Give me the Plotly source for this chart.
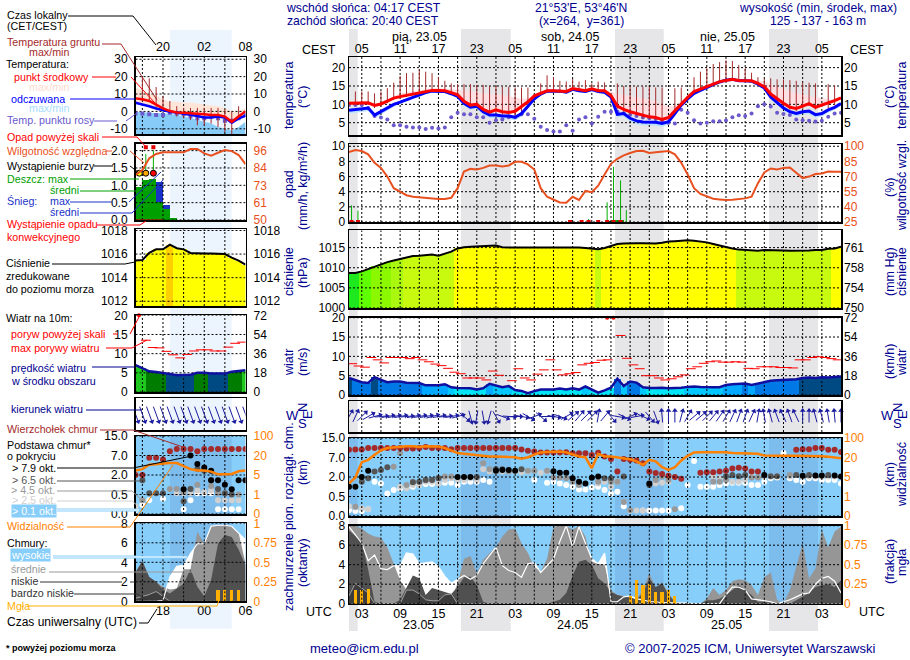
import math
import numpy as np
import plotly.graph_objects as go

W, H = 910, 660
FONT = "Liberation Sans"
NAVY = "#000090"
ORANGE = "#ff8000"
RHCOL = "#e85020"
DARKRED = "#a52a2a"
SKY = "#87cefa"
NIGHTSKY = "#7dbdee"

# ---------------- time axes ----------------
hours = list(range(1, 79))
main_grid = list(range(3, 78, 3))
main_label_hours = [3, 9, 15, 21, 27, 33, 39, 45, 51, 57, 63, 69, 75]
cest_labels = ["05", "11", "17", "23", "05", "11", "17", "23", "05", "11", "17", "23", "05"]
utc_labels = ["03", "09", "15", "21", "03", "09", "15", "21", "03", "09", "15", "21", "03"]
inset_hours = list(range(14, 31))
inset_grid = [15, 18, 21, 24, 27]
inset_label_hours = [18, 24, 30]
inset_cest = ["20", "02", "08"]
inset_utc = ["18", "00", "06"]

# ---------------- main: temperature ----------------
t_mid = [10.3,10.3,10.3,10.4,9.7,10.1,10.9,11.7,12.1,12.4,12.7,13.0,13.5,13.8,13.8,13.7,13.2,12.6,10.8,9.8,
         10.0,8.6,7.9,8.5,8.0,7.8,8.1,9.4,10.7,12.3,13.0,13.7,13.7,13.7,13.5,14.3,13.9,13.7,14.2,13.7,
         13.7,12.4,9.5,8.6,8.0,7.5,6.9,6.6,6.4,5.9,6.4,8.3,10.3,11.9,13.5,14.1,14.8,15.5,16.2,16.6,
         16.8,16.5,16.5,16.4,15.7,14.8,12.8,11.5,10.3,9.2,8.9,9.5,10.2,9.2,9.8,10.3,11.0,11.8]
t_feel = [8.4,8.6,8.7,9.0,7.1,8.0,9.0,10.0,10.6,11.3,12.0,12.5,13.2,13.6,13.6,13.5,12.9,12.2,10.3,9.2,
          9.5,8.0,7.1,7.1,6.8,6.8,6.5,7.5,9.5,11.5,12.8,13.6,13.6,13.6,13.3,14.1,13.7,13.5,14.0,13.5,
          13.3,12.0,7.3,7.5,6.2,5.5,5.2,5.2,5.1,4.8,5.3,7.5,9.8,11.5,13.0,13.8,14.7,15.4,16.1,16.6,
          16.8,16.4,16.4,16.3,15.5,14.5,12.0,10.6,9.0,8.0,7.5,8.0,8.2,7.2,7.5,8.5,9.2,10.2]
t_max = [10.4,10.5,10.5,10.6,10.2,10.6,11.3,12.2,13.0,13.3,13.6,13.9,14.2,14.4,14.4,14.3,14.2,14.0,13.7,13.5,
         13.3,13.0,12.9,12.8,12.6,12.3,11.8,11.5,11.6,12.5,13.3,13.9,14.0,14.0,13.9,14.5,14.2,14.1,14.5,14.2,
         13.9,13.5,12.9,12.6,12.3,12.0,11.6,11.2,10.8,10.1,9.5,9.5,10.8,12.2,13.7,14.3,15.0,15.8,16.4,16.8,
         17.0,16.8,16.8,16.7,16.5,16.2,15.5,14.8,14.0,13.4,13.0,12.7,12.4,12.0,11.6,11.3,11.4,12.0]
t_feel_min = [7.6,7.7,7.9,8.2,6.3,7.2,8.3,9.4,10.1,10.9,11.6,12.1,12.9,13.3,13.3,13.1,12.5,11.7,9.6,8.5,
              8.8,7.2,6.3,6.3,6.0,6.0,5.7,6.6,8.8,11.0,12.4,13.2,13.2,13.2,12.9,13.7,13.3,13.1,13.6,13.1,
              12.9,11.5,6.5,6.7,5.3,4.6,4.3,4.3,4.2,3.9,4.5,6.8,9.2,11.0,12.6,13.5,14.4,15.2,15.9,16.4,
              16.6,16.2,16.2,16.1,15.2,14.1,11.4,9.9,8.3,7.2,6.7,7.2,7.4,6.4,6.7,7.7,8.5,9.6]
t_dew = [9.8,9.8,9.8,9.0,6.8,6.4,5.9,4.3,4.3,3.9,3.7,3.7,3.3,3.6,3.4,3.7,6.5,7.7,7.3,7.3,
         6.5,6.5,5.0,5.7,5.9,6.5,6.5,7.3,7.3,6.1,3.9,3.0,2.6,2.6,4.3,2.8,5.9,6.5,4.8,6.6,
         8.0,8.0,8.0,7.6,7.2,6.8,6.4,6.2,6.0,5.5,5.0,4.8,8.5,7.7,5.7,4.8,5.0,5.4,5.4,5.6,
         6.5,7.0,6.8,7.5,9.5,10.0,9.4,7.7,7.4,7.1,5.9,5.7,5.5,5.3,5.5,6.6,7.5,7.7]
ground_max = [None,13.5,13.5,13.5,13.0,13.5,14.4,15.9,17.7,18.5,18.6,19.2,18.9,18.5,17.4,16.4,15.7,15.5,15.5,15.5,
              15.3,15.3,15.0,15.0,14.8,14.8,14.6,14.6,14.6,None,15.7,17.9,17.4,16.4,16.2,16.9,16.2,16.6,15.7,16.2,
              16.0,None,15.7,15.0,15.0,14.8,14.8,14.8,14.6,14.6,None,14.4,14.6,None,17.4,18.9,19.8,21.0,21.5,22.0,
              21.8,20.7,19.8,18.6,17.4,17.0,17.1,16.8,16.8,16.6,16.4,16.0,15.9,15.7,None,15.5,15.2,None]
ground_min = [None,9.7,9.8,9.8,9.0,9.3,10.3,11.2,11.7,12.0,12.4,12.8,13.2,13.6,13.6,13.4,13.1,12.4,10.6,9.2,
              9.2,8.0,7.2,7.6,7.2,7.2,7.0,7.5,9.0,None,12.5,13.4,13.4,13.4,13.2,14.0,13.6,13.4,13.8,13.4,
              13.4,None,8.8,8.0,7.2,6.9,6.2,6.0,5.8,5.3,None,7.8,9.8,None,13.1,13.8,14.6,15.3,16.0,16.4,
              16.6,16.2,16.3,16.2,15.4,14.6,11.6,10.8,9.6,8.6,8.2,8.8,9.6,8.6,None,9.0,9.8,None]

# ---------------- main: humidity & precipitation ----------------
rh = [94.3,96.3,95.3,92.0,83.6,78.6,70.0,58.5,55.0,51.5,50.0,49.4,48.4,47.8,47.8,47.8,49.0,58.5,75.0,77.6,
      77.0,78.6,81.0,81.0,80.0,81.0,84.6,84.6,82.0,77.0,58.5,50.0,46.8,44.4,44.0,50.0,46.8,55.8,54.5,61.0,
      72.0,82.6,87.6,91.0,93.3,95.3,95.6,93.3,94.0,95.0,95.3,92.0,83.6,72.0,58.5,52.8,50.0,48.0,47.4,46.8,
      47.1,47.8,48.4,50.0,63.5,74.0,78.0,77.0,78.6,79.0,74.0,68.5,70.0,72.5,73.0,75.0,74.7,74.7]
rain_hours = [1.4, 2.4, 38.5, 41.4, 42.4, 43.5, 44.4]
rain_max = [2.2, 1.5, 0.4, 2.6, 7.3, 5.5, 1.6]
rain_mean_hours = [41.5, 42.5, 43.5]
rain_mean = [0.1, 0.2, 0.2]
conv_hours = [1.4, 2.4, 35.6, 37.4, 38.5, 40.0, 41.4, 42.4, 43.5]
conv_values = [0, 0, 0, 0, 0, 0, 0, 0, 0]

# ---------------- main: pressure ----------------
press = [1008.7,1008.7,1009.1,1009.7,1010.4,1010.9,1011.4,1011.8,1012.2,1012.5,1012.9,1013.0,1013.2,1013.3,1013.0,1013.5,1014.0,1014.8,1015.1,1015.2,
         1015.3,1015.4,1015.5,1015.5,1015.1,1015.0,1015.0,1015.0,1015.0,1015.1,1015.1,1015.1,1015.1,1015.1,1015.0,1015.0,1015.0,1014.9,1014.8,1014.6,
         1014.9,1015.4,1015.9,1016.0,1016.1,1016.1,1016.1,1016.1,1016.0,1016.2,1016.5,1016.6,1016.7,1016.8,1016.7,1016.5,1016.3,1015.9,1015.5,1015.2,
         1014.8,1014.5,1014.4,1014.2,1014.2,1014.4,1014.4,1014.4,1014.3,1014.2,1014.2,1014.2,1014.3,1014.4,1014.4,1014.7,1014.8,1015.2]
press_levels = [1009.0, 1010.0, 1011.5, 1012.5, 1014.75]
press_colors = ["#1ee81e", "#60ff00", "#8cf800", "#aaf810", "#c8fa10", "#ffff00"]

# ---------------- main: wind ----------------
wind = [4.4,3.9,3.3,3.1,4.6,3.9,3.3,3.5,3.5,3.2,3.1,3.1,2.5,2.5,2.5,2.8,2.0,1.8,1.75,1.75,
        1.4,1.75,2.9,2.4,2.0,2.3,1.3,1.05,0.45,1.0,1.4,1.4,1.4,1.7,1.4,1.75,1.4,2.2,1.3,0.6,
        1.2,1.9,4.2,2.3,3.5,3.2,2.0,1.8,1.8,1.9,1.75,1.75,1.9,2.1,2.2,2.1,2.0,2.0,2.0,2.6,
        2.8,2.9,3.0,2.6,3.0,3.3,3.7,3.8,3.9,3.9,4.1,4.4,4.5,4.4,4.6,4.5,4.7,4.8]
gust = [8.1,7.5,7.2,9.7,9.1,8.3,9.7,9.7,9.7,9.4,9.7,9.1,8.6,8.0,7.6,6.9,5.9,5.5,4.4,4.4,
        4.4,3.9,6.2,5.1,None,3.7,6.8,4.4,3.9,5.4,6.5,9.1,6.5,5.2,5.5,5.8,7.8,8.2,8.4,9.0,
        9.1,None,15.4,9.5,7.8,6.8,5.0,5.0,4.4,3.9,4.2,4.7,5.2,6.8,7.3,8.2,8.6,8.8,8.5,8.5,
        8.6,8.5,6.9,6.8,7.3,7.3,7.3,7.1,7.1,7.0,9.1,9.1,9.7,9.9,9.7,9.4,9.1,None]
over_hours = [41.4, 42.4]
over_values = [20, 20]
wind_levels = [2.0, 2.5, 3.0, 4.35, 5.0, 5.6]
wind_colors = ["#00e5f5", "#00c8ff", "#00a8ff", "#0078e6", "#004a84", "#007d00", "#1fc81f"]
wind_dir = [30,25,45,60,75,85,80,80,80,85,80,80,80,75,80,85,80,75,130,165,
            190,170,195,150,110,95,90,100,120,70,130,90,100,110,60,50,40,45,45,10,
            40,140,100,115,65,80,115,140,160,-5,0,0,15,30,50,50,45,40,35,30,
            25,20,20,25,10,-10,-15,-20,-25,-20,-25,0,0,-15,-15,-10,-5,0]

# ---------------- main: cloud base (km) ----------------
top_h = [1,2,3,4,5,6,7,8,9,10,11,12,13,14,15,16,17,18,19,20,21,22,23,24,25,26,27,28,29,30,31,32,33,34,35,36,37,38,39,40,
         41,42,43,44,45,46,47,48,49,50,51,52,53,56,57,58,59,60,61,62,63,64,65,71,72,73,74,75,76,77,78]
top_km = [10.2,10.3,10.3,10.9,10.9,10.9,10.9,10.9,10.9,10.7,10.7,10.9,11.3,10.9,10.9,10.9,10.4,10.9,10.9,10.9,10.9,10.9,10.9,10.9,10.9,10.9,10.9,10.3,9.8,9.5,9.1,9.1,9.1,9.1,9.2,8.7,8.7,8.7,8.0,8.9,
          7.4,6.6,3.4,6.6,6.4,6.2,5.5,3.4,3.0,2.8,2.3,2.0,1.87,3.1,3.2,3.2,3.4,3.6,4.2,4.4,4.2,3.4,3.4,10.2,10.4,10.4,10.9,10.9,10.2,10.2,9.3]
b79_h = [1,2,3,4,18,19,20,24,25,26,27,33,34,35,36,37,38,39,40,48,66,72,74,75,77,78]
b79_km = [1.25,1.25,2.0,3.6,2.0,2.0,2.0,3.6,3.8,3.8,3.6,3.5,3.1,3.1,1.9,1.64,1.5,1.95,2.1,1.5,2.5,2.3,2.4,2.4,2.4,2.1]
b65_h = [3,4,5,6,7,11,12,13,14,15,21,24,25,28,41,42,44,48,60,61,62,63,67,68,71,73,76]
b65_km = [1.64,1.9,3.4,3.8,4.5,1.6,1.64,1.77,1.77,1.9,2.0,4.0,4.0,4.0,1.9,1.9,2.1,1.38,2.2,2.5,2.2,2.5,2.2,2.2,2.5,2.5,2.5]
b45_h = [2,8,9,10,11,13,15,16,17,22,23,24,26,29,30,32,33,34,35,36,37,40,42,43,44,45,49,50,51,52,58,59,60,64,65,70]
b45_km = [0.24,4.6,8.8,1.38,1.64,1.77,1.95,2.1,2.1,5.5,4.0,3.6,3.4,3.6,3.6,3.6,1.97,1.97,1.9,1.64,1.38,1.64,1.64,1.64,0.36,0.15,1.77,2.1,1.77,0.17,1.64,1.64,1.77,1.97,1.97,2.5]
b25_h = [1,2,3,4,9,10,11,12,13,14,15,16,17,18,19,20,21,22,23,24,25,26,27,28,29,31,32,40,41,42,43,44,46,47,49,50,51,58,59,60,61,62,63,64,66,67,68,70,72,73,74,75,76,77,78]
b25_km = [0.25,0.22,0.2,0.17,1.25,1.12,1.38,1.38,1.64,1.64,1.5,1.77,1.9,1.77,1.77,1.9,1.77,4.0,3.4,3.4,3.4,3.4,3.4,3.2,3.4,3.1,3.4,1.5,1.64,1.25,1.64,0.36,0.14,0.14,1.5,1.56,1.64,2.1,1.9,1.9,1.64,1.64,1.77,2.1,2.1,2.1,2.2,2.1,2.1,2.1,2.1,2.1,2.1,2.1,2.1]
b01_h = [1,2,3,4,5,6,7,8,9,10,11,12,13,14,15,16,17,18,19,20,21,22,23,30,32,33,34,35,36,37,38,39,40,41,42,43,44,45,47,48,49,50,51,53,54,55,56,57,58,59,60,61,62,63,64,65,66,67,68,69,70,71,72,73,74,75,76,77,78]
b01_km = [0.15,0.13,0.13,0.17,1.64,1.5,0.73,1.0,1.12,1.2,1.25,1.38,1.46,1.46,1.5,1.56,1.56,1.38,1.64,1.64,1.64,1.77,1.64,1.77,1.56,1.64,1.5,1.38,1.25,1.04,1.04,1.2,1.25,1.0,0.73,0.86,0.25,0.14,0.14,0.14,0.14,0.14,0.14,0.2,1.38,6.1,1.25,1.25,1.25,1.38,1.5,1.56,1.56,1.56,1.38,1.38,1.64,1.9,1.97,8.8,1.9,1.77,1.64,1.9,1.9,1.77,1.77,1.77,1.5]
visibility = [3.7,4.9,16.4,18.2,31,49,59,62,63,66,66,63,66,66,65,59,49,38,35,32,
              28,27,24,24,24,24,21,19,21,32,41,43,45,45,41,32,24,21,11.7,35,
              24,24,20,19.5,18.7,17,14.3,18.2,17,12.5,10.4,12.5,17.7,27,41,42,42,42,42,42,
              38,38,38,35,35,28,27,27,27,27,27,27,27,27,25.5,23,20,19.5]
km_scale = [0, 0.5, 2, 7, 15]
vis_scale = [0, 1, 5, 20, 100]
base_positions = [0, 1, 2, 3, 4]
base_labels = ["0.0", "0.5", "2.0", "7.0", "15.0"]
vis_labels = ["0", "1", "5", "20", "100"]

# ---------------- main: cloud cover (octas) ----------------
cl_high = [7.9,7.0,6.2,4.4,5.0,3.6,3.5,3.9,3.9,5.2,5.1,4.1,4.2,4.3,3.8,2.8,2.1,2.5,2.9,2.5,
           2.9,4.1,5.0,5.8,3.9,3.4,3.2,2.7,4.1,4.2,3.2,3.9,4.6,6.4,8.0,5.8,7.9,6.2,4.6,4.1,
           5.2,0.2,0.2,0.7,0.8,0.5,0.4,0.2,0.2,0.1,0.1,0.1,0.05,0.05,0.0,0.0,0.0,0.0,0.0,0.9,
           1.7,1.7,1.4,0.5,0.4,0.3,0.2,0.0,0.2,0.4,0.7,1.0,1.1,2.0,2.6,2.8,2.3,1.1]
cl_mid = [8.0,8.0,7.7,7.2,6.9,6.8,5.8,4.1,2.4,1.4,0.3,0.1,0.1,0.1,0.1,0.1,0.5,2.1,4.6,4.9,
          3.1,4.5,5.2,5.8,6.9,7.6,7.7,6.2,5.2,3.8,3.3,4.6,7.9,8.0,8.0,7.6,8.0,6.9,4.3,4.1,
          4.0,1.4,0.9,0.8,0.7,0.45,1.4,3.1,1.6,2.2,1.1,0.2,0.1,0.0,0.0,0.0,0.5,1.6,0.9,1.4,
          2.3,2.5,2.4,1.9,0.9,2.7,3.2,0.4,0.0,1.4,3.8,6.2,2.6,3.6,7.6,5.8,7.4,7.9]
cl_low = [7.5,6.9,6.4,3.5,0.2,0.0,0.0,0.0,0.4,1.7,2.9,2.6,0.9,1.6,1.4,1.2,1.0,1.7,2.7,2.8,
          1.9,0.2,0.0,0.0,0.0,0.0,0.0,0.0,0.0,0.0,0.0,0.0,0.2,0.4,1.1,2.9,4.3,4.5,4.0,2.6,
          2.1,1.2,0.9,0.7,0.65,0.4,1.1,2.6,1.7,2.1,0.9,0.2,0.0,0.0,0.0,0.0,0.35,0.35,0.5,0.9,
          1.4,1.9,1.4,0.9,0.2,0.2,0.1,0.0,0.0,0.0,0.35,0.7,1.1,1.7,1.9,2.0,1.7,2.4]
cl_vlow = [0.8,2.1,1.6,1.1,0.0,0.0,0.0,0.0,0.0,1.4,1.4,1.0,0.4,0.3,0.3,0.9,1.0,0.0,0.0,0.0,
           0.0,0.0,0.0,0.0,0.0,0.0,0.0,0.0,0.0,0.0,0.0,0.0,0.0,0.0,0.0,0.0,0.0,0.0,0.0,0.0,
           0.0,0.0,0.0,0.0,0.0,0.0,0.0,0.0,0.0,0.0,0.0,0.0,0.0,0.0,0.0,0.0,0.0,0.0,0.0,0.0,
           0.0,0.0,0.0,0.0,0.0,0.0,0.0,0.0,0.0,0.0,0.0,0.0,0.0,0.0,0.0,0.0,0.0,0.0]
fog_h = [2, 3, 4, 45, 46, 47, 48, 49, 50, 51, 52]
fog = [0.18, 0.18, 0.19, 0.10, 0.30, 0.24, 0.25, 0.15, 0.15, 0.18, 0.10]

# ---------------- inset legend panels ----------------
i_mid = [7.5,7.0,6.0,3.7,1.7,0.2,-0.6,-0.8,-1.2,-1.7,-1.7,-2.0,-2.0,-3.0,-6.0,-3.0,0.0]
i_feel = [5.0,4.2,3.0,1.7,0.8,-0.2,-0.6,-1.2,-1.7,-2.7,-3.5,-3.5,-3.0,-3.5,-6.5,-4.0,-2.5]
i_max = [13.8,12.0,10.0,9.0,7.0,5.5,5.5,5.0,5.0,4.5,4.0,3.5,3.0,2.0,0.0,0.0,2.0]
i_blue_top = [-0.2,-0.5,-1.0,-1.0,-1.0,-1.5,-2.0,-3.0,-4.0,-5.0,-6.0,-7.0,-9.0,-10.0,-11.0,-9.0,-6.0]
i_dew = [-1.2,-1.2,-1.7,-2.1,-2.1,-0.8,-1.2,-1.7,-3.0,-4.0,-4.0,-3.0,-4.0,-5.4,-5.4,-4.0,-2.0]
i_gmax = [None,20,19,14,9,6,3,2,2,2,2,2,2,1,0,3,None]
i_gmin = [None,7,6,2,0,-1,-3,-4,-5,-8,-8,-7,-9,-12,-13,-5,None]
i_rh = [79.9,83.2,90.9,93.8,94.9,94.9,94.9,94.9,97.1,97.1,94.2,92.7,94.6,96.4,95.7,93.1,87.1]
i_rain_h = [14.5,15.5,16.5,17.5,18.5,19.5]
i_rain = [0.95,1.15,1.17,0.53,0.33,0.07]
i_snow = [0,0,0,0.57,0.09,0]
i_rainmax_h = [14.55,15.5,16.6]
i_rainmax = [1.3,1.9,2.0]
i_storm_values = [1.35,1.35,1.35]
i_storm_colors = ["#ffff00","#ffa500","#ff0000"]
i_over_h = [15.5,16.6]
i_over = [2.1,2.1]
i_conv_h = [14.5,15.5,16.5,17.5]
i_conv = [0,0,0,0]
i_press = [1015.45,1015.5,1016.1,1016.4,1016.4,1016.8,1016.5,1016.4,1016.1,1016.05,1016.05,1016.05,1016.05,1016.0,1015.7,1015.45,1015.1]
i_press_colors = ["#ffff00"]*5 + ["#ffd000"] + ["#ffff00"]*11
i_wind = [7.0,6.2,5.4,5.2,5.0,4.7,4.4,4.4,4.5,5.0,5.0,4.8,4.8,4.8,5.3,5.5,5.7]
i_gust_h = [15.5,16.5,17.5,18.5,19.5,20.5,21.5,22.5,23.5,24.5,25.5,26.5,27.5,28.5,29.5]
i_gust = [13.5,11.6,11.5,10.6,9.7,8.9,9.8,10.7,11.0,11.0,10.7,10.7,11.7,12.7,13.0]
i_over_g_h = [14.5]
i_over_g = [20]
i_dir = [160]*17
i_top_h = [14,15,16,17,18,19,20,21,22,23,24,25,26,27,28,29,30]
i_top = [2.0,2.0,6.4,6.4,6.0,8.7,9.7,9.7,9.7,8.7,9.7,9.7,9.7,9.7,9.7,9.7,9.7]
i_b79_h = [22,23,24,25,25,26,27,28,21,29,30]
i_b79 = [7.0,4.8,3.9,3.1,1.6,1.6,1.25,0.9,0.9,1.6,1.6]
i_b65_h = [15,16,17,18,21,22,23,24,25,26,27,28]
i_b65 = [1.6,0.6,0.6,0.6,0.33,0.93,3.6,3.1,1.6,0.93,0.6,0.5]
i_b45_h = [15,19,20,21,22,23,25,26,27,29,30]
i_b45 = [0.35,0.93,0.93,0.7,0.93,1.25,1.15,0.6,0.6,0.5,1.6]
i_b25_h = [14,15,19,20,21,22,23,24,25,26,27,28,29]
i_b25 = [0.2,0.35,0.93,0.6,0.6,0.6,0.8,0.7,0.8,0.35,0.35,0.35,0.35]
i_b01_h = [14,15,16,18,21,22,23,24,25,26,27,28,29]
i_b01 = [0.1,0.24,0.35,0.39,0.12,0.35,0.6,0.6,0.6,0.12,0.12,0.12,0.12]
i_vis = [8.4,9.5,12.9,13.4,13.7,14.2,14.2,11.6,9.5,8.4,8.4,7.6,5.5,5.5,5.8,7.9,8.4]
i_high = [0,0,0,0,0.1,2.5,3.6,3.7,4.9,5.9,5.9,7.7,7.8,7.8,7.7,7.0,6.3]
i_mid_c = [3.0,4.1,2.5,2.0,1.5,1.2,1.3,3.3,3.3,7.1,5.9,7.7,7.8,7.8,7.7,7.0,3.9]
i_low_c = [3.0,4.1,2.5,2.0,1.2,0.8,1.3,1.8,3.3,1.5,0.5,2.2,5.9,6.8,6.6,5.3,3.7]
i_vlow_c = [0.3,0.5,0.7,1.0,0.5,0,0,0,0,0,0,0,0,0,0,0,0]
i_fog_h = [26,27,28,29]
i_fog = [0.145,0.145,0.145,0.145]

for arr in (t_mid,t_feel,t_max,t_feel_min,t_dew,ground_max,ground_min,rh,press,wind,gust,wind_dir,visibility,cl_high,cl_mid,cl_low,cl_vlow):
    assert len(arr) == 78, len(arr)

# ---------------- helpers ----------------
fig = go.Figure()
layout = {}
shapes, annots = [], []

def px(x): return x / W
def py(y): return 1 - y / H

def txt(x, y, s, color="black", anchor="left", size=12, angle=0, bg=None, bold=False):
    annots.append(dict(x=px(x), y=py(y), xref="paper", yref="paper", text=f"<b>{s}</b>" if bold else s, showarrow=False,
                       xanchor=anchor, yanchor="middle", textangle=angle, bgcolor=bg, borderpad=0,
                       font=dict(family=FONT, size=size, color=color)))

def leader(points, color, width=1):
    for (a, b), (c, d) in zip(points[:-1], points[1:]):
        shapes.append(dict(type="line", xref="paper", yref="paper", x0=px(a), y0=py(b), x1=px(c), y1=py(d),
                           line=dict(color=color, width=width), layer="above"))

def box(x0, x1, y0, y1, color):
    shapes.append(dict(type="rect", xref="paper", yref="paper", x0=px(x0), x1=px(x1), y0=py(y0), y1=py(y1),
                       fillcolor=color, line=dict(width=0), layer="below"))

panels = {}
def panel(i, x0, x1, top, bot, xr, yr, yt=None, yl=None, rt=None, rl=None, rr=None, rc="black",
          xt=None, xl=None, xside=None, grid_x=None, xoff=0, loff=0, roff=2):
    panels[i] = dict(xr=xr, yr=yr, rr=rr or yr, yt=yt or [], grid_x=grid_x, x0=x0, x1=x1, top=top, bot=bot)
    xa = dict(domain=[px(x0), px(x1)], range=xr, anchor=f"y{i}", showgrid=False, zeroline=False, ticks="",
              showline=True, mirror=True, linecolor="black", linewidth=1.5, fixedrange=True)
    if xt:
        xa.update(tickmode="array", tickvals=xt, ticktext=xl, side=xside, showticklabels=True, ticklabelstandoff=xoff,
                  tickfont=dict(family=FONT, size=12.5, color="black"))
    else:
        xa.update(showticklabels=False)
    layout[f"xaxis{i}"] = xa
    ya = dict(domain=[py(bot), py(top)], range=yr, anchor=f"x{i}", showgrid=False, zeroline=False, ticks="",
              showline=True, mirror=True, linecolor="black", linewidth=1.5, fixedrange=True)
    if yt:
        ya.update(tickmode="array", tickvals=yt, ticktext=yl, ticklabelstandoff=loff,
                  tickfont=dict(family=FONT, size=12, color="black"))
    else:
        ya.update(showticklabels=False)
    layout[f"yaxis{i}"] = ya
    if rt:
        layout[f"yaxis{i+20}"] = dict(domain=[py(bot), py(top)], range=rr or yr, anchor=f"x{i}", overlaying=f"y{i}",
                                      side="right", showgrid=False, zeroline=False, ticks="", showline=False,
                                      tickmode="array", tickvals=rt, ticktext=rl, fixedrange=True, ticklabelstandoff=roff,
                                      tickfont=dict(family=FONT, size=12, color=rc))

def ax(i, right=False):
    return dict(xaxis=f"x{i}", yaxis=f"y{i+20 if right else i}", hoverinfo="skip", showlegend=False)

def grid(i, right=False):
    p = panels[i]
    xs, ys = [], []
    for v in p["grid_x"]:
        xs += [v, v, None]
        ys += [p["yr"][0], p["yr"][1], None]
    for v in p["yt"]:
        xs += [p["xr"][0], p["xr"][1], None]
        ys += [v, v, None]
    if right:
        rng = p["yr"]; rr = p["rr"]
        ys = [None if y is None else rr[0] + (y - rng[0]) * (rr[1] - rr[0]) / (rng[1] - rng[0]) for y in ys]
    fig.add_trace(go.Scatter(x=xs, y=ys, mode="lines", line=dict(color="black", width=1, dash="2px,2px"),
                             **ax(i, right)))

def dummy(i):
    p = panels[i]
    fig.add_trace(go.Scatter(x=[p["xr"][0]], y=[p["rr"][0]], mode="markers", marker=dict(size=1, opacity=0), **ax(i, True)))

def band(i, x, upper, lower, color):
    fig.add_trace(go.Scatter(x=x, y=lower, mode="lines", line=dict(width=0, color=color), **ax(i)))
    fig.add_trace(go.Scatter(x=x, y=upper, mode="lines", line=dict(width=0, color=color), fill="tonexty", fillcolor=color, **ax(i)))

def line(i, x, y, color, width=2, right=False):
    fig.add_trace(go.Scatter(x=x, y=y, mode="lines", line=dict(color=color, width=width), **ax(i, right)))

def dots(i, x, y, color, size=6, symbol="circle", right=False, clip=True):
    fig.add_trace(go.Scatter(x=x, y=y, mode="markers", marker=dict(color=color, size=size, symbol=symbol, line=dict(width=0)),
                             cliponaxis=clip, **ax(i, right)))

def vsegs(i, x, lo, hi, color, width=1, right=False):
    xs, ys = [], []
    for a, b, c in zip(x, lo, hi):
        if b is None or c is None:
            continue
        xs += [a, a, None]
        ys += [b, c, None]
    fig.add_trace(go.Scatter(x=xs, y=ys, mode="lines", line=dict(color=color, width=width), **ax(i, right)))

def hsegs(i, x, y, color, size=7):
    fig.add_trace(go.Scatter(x=x, y=y, mode="markers",
                             marker=dict(symbol="line-ew", size=size, line=dict(color=color, width=1)), **ax(i)))

def level_color(v, levels, colors):
    for lv, c in zip(levels, colors):
        if v < lv:
            return c
    return colors[-1]

def arrows(i, x, angles, length, px_per_x, px_per_y):
    xs, ys, tx, ty, ang = [], [], [], [], []
    for h, a in zip(x, angles):
        dx = math.sin(math.radians(a)) * length / 2 / px_per_x
        dy = math.cos(math.radians(a)) * length / 2 / px_per_y
        xs += [h - dx, h + dx, None]
        ys += [-dy, dy, None]
        tx.append(h + dx); ty.append(dy); ang.append(a)
    fig.add_trace(go.Scatter(x=xs, y=ys, mode="lines", line=dict(color="#1c1ca0", width=1), cliponaxis=False, **ax(i)))
    fig.add_trace(go.Scatter(x=tx, y=ty, mode="markers", cliponaxis=False,
                             marker=dict(symbol="triangle-up", size=5, angle=ang, color="#1c1ca0", line=dict(width=0)), **ax(i)))

mx = lambda v: np.interp(v, km_scale, base_positions).tolist()
vx = lambda v: np.interp(v, vis_scale, base_positions).tolist()

# ---------------- backgrounds ----------------
MAIN_X = (349, 841)
INSET_X = (135.5, 245.5)
NIGHTS = [(349, 357.7), (461, 510.7), (615, 663.7), (769, 818)]
for a, b in NIGHTS:
    box(a, b, 29, 631, "#e6e6e8")
box(170, 231.7, 30, 628.7, "#ecf4fd")
for (x0, x1, nights), (t, b) in [((349, 841, NIGHTS), (438, 516)), ((349, 841, NIGHTS), (525.7, 603.7)),
                                 ((135.5, 245.5, [(170, 231.7)]), (436, 514)),
                                 ((135.5, 245.5, [(170, 231.7)]), (523.3, 601.3))]:
    box(x0, x1, t, b, SKY)
    for a, c in nights:
        box(a, c, t, b, NIGHTSKY)

# ---------------- panels ----------------
MR = [1, 78]
IR = [14, 30]
IL, IRO = 4, 7
panel(1, *MAIN_X, 57, 135, MR, [1.65, 22.9], [5, 10, 15, 20], ["5", "10", "15", "20"], [5, 10, 15, 20], ["5", "10", "15", "20"],
      xt=main_label_hours, xl=cest_labels, xside="top", grid_x=main_grid, xoff=-2)
panel(2, *MAIN_X, 144, 222, MR, [0, 10.3], [2, 4, 6, 8, 0, 10], ["2", "4", "6", "8", "0", "10"], [25, 40, 55, 70, 85, 100],
      ["25", "40", "55", "70", "85", "100"], rr=[25, 102.25], rc=RHCOL, grid_x=main_grid)
panel(3, *MAIN_X, 230.3, 308, MR, [1000, 1019.3], [1000, 1005, 1010, 1015], ["1000", "1005", "1010", "1015"],
      [1000, 1005, 1010, 1015], ["750", "754", "758", "761"], grid_x=main_grid)
panel(4, *MAIN_X, 317.7, 395, MR, [0, 20], [0, 5, 10, 15, 20], ["0", "5", "10", "15", "20"], [0, 5, 10, 15, 20], ["0", "18", "36", "54", "72"], grid_x=main_grid)
panel(5, *MAIN_X, 401, 432, MR, [-1, 1], grid_x=main_grid)
panel(6, *MAIN_X, 438, 516, MR, [0, 4], base_positions, base_labels, base_positions, vis_labels, rc=ORANGE, grid_x=main_grid)
panel(7, *MAIN_X, 525.7, 603.7, MR, [0, 8], [0, 2, 4, 6, 8], ["0", "2", "4", "6", "8"], [0, .25, .5, .75, 1], ["0", "0.25", "0.5", "0.75", "1"],
      rr=[0, 1], rc=ORANGE, xt=main_label_hours, xl=utc_labels, xside="bottom", grid_x=main_grid, xoff=-2)
panel(8, *INSET_X, 57, 134, IR, [-13, 31.3], [-10, 0, 10, 20, 30], ["-10", "0", "10", "20", "30"], [-10, 0, 10, 20, 30], ["-10", "0", "10", "20", "30"],
      xt=inset_label_hours, xl=inset_cest, xside="top", grid_x=inset_grid, loff=IL, roff=IRO)
panel(9, *INSET_X, 143.7, 220, IR, [0, 2.2], [0, .5, 1, 1.5, 2], ["0.0", "0.5", "1.0", "1.5", "2.0"], [50, 61.5, 73, 84.5, 96], ["50", "61", "73", "84", "96"],
      rr=[50, 100.6], rc=RHCOL, grid_x=inset_grid, loff=IL, roff=IRO)
panel(10, *INSET_X, 229.3, 306, IR, [1011.6, 1018.1], [1012, 1014, 1016, 1018], ["1012", "1014", "1016", "1018"], [1012, 1014, 1016, 1018], ["1012", "1014", "1016", "1018"], grid_x=inset_grid, loff=IL, roff=IRO)
panel(11, *INSET_X, 315.3, 392, IR, [0, 20], [0, 5, 10, 15, 20], ["0", "5", "10", "15", "20"], [0, 5, 10, 15, 20], ["0", "18", "36", "54", "72"], grid_x=inset_grid, loff=IL, roff=IRO)
panel(12, *INSET_X, 398.3, 430, IR, [-1, 1], grid_x=inset_grid)
panel(13, *INSET_X, 436, 514, IR, [0, 4], base_positions, base_labels, base_positions, vis_labels, rc=ORANGE, grid_x=inset_grid, loff=IL, roff=IRO)
panel(14, *INSET_X, 523.3, 601.3, IR, [0, 8], [0, 2, 4, 6, 8], ["0", "2", "4", "6", "8"], [0, .25, .5, .75, 1], ["0", "0.25", "0.5", "0.75", "1"],
      rr=[0, 1], rc=ORANGE, xt=inset_label_hours, xl=inset_utc, xside="bottom", grid_x=inset_grid, xoff=-3, loff=IL, roff=IRO)

# --- temperature
band(1, hours, t_max, t_mid, "#ffdfe2")
band(1, hours, t_feel, t_feel_min, "#b8e0ff")
grid(1)
dots(1, hours, t_dew, "#6a5acd", 4)
vsegs(1, hours, ground_min, ground_max, DARKRED, 1)
line(1, hours, t_feel, "#0000ff", 3)
line(1, hours, t_mid, "#ff0000", 3)
dummy(1)

band(8, inset_hours, i_max, i_feel, "#ffe4d8")
fig.add_trace(go.Scatter(x=inset_hours, y=[-13]*17, mode="lines", line=dict(width=0), **ax(8)))
fig.add_trace(go.Scatter(x=inset_hours, y=i_blue_top, mode="lines", line=dict(width=0), fill="tonexty", fillcolor="#87cbf8", **ax(8)))
grid(8)
dots(8, inset_hours, i_dew, "#6a5acd", 4, "square")
vsegs(8, inset_hours, i_gmin, i_gmax, DARKRED, 1)
line(8, inset_hours, i_feel, "#0000ff", 2.5)
line(8, inset_hours, i_mid, "#ff0000", 2.5)
dummy(8)

# --- precipitation + humidity
grid(2)
fig.add_trace(go.Bar(x=rain_mean_hours, y=rain_mean, width=1, marker=dict(color="#00a000", line=dict(width=0)), **ax(2)))
vsegs(2, rain_hours, [0]*len(rain_hours), rain_max, "#00b000", 1)
dots(2, conv_hours, conv_values, "#e00000", 4, "square", clip=False)
line(2, hours, rh, RHCOL, 2, right=True)

fig.add_trace(go.Bar(x=i_rain_h, y=i_rain, width=1, marker=dict(color="#00a000", line=dict(width=0)), **ax(9)))
fig.add_trace(go.Bar(x=i_rain_h, y=i_snow, base=i_rain, width=1, marker=dict(color="#1a32c8", line=dict(width=0)), **ax(9)))
grid(9)
vsegs(9, i_rainmax_h, i_storm_values, i_rainmax, "#00b000", 1)
fig.add_trace(go.Scatter(x=i_rainmax_h, y=i_storm_values, mode="markers",
                         marker=dict(size=6, color=i_storm_colors, line=dict(color="black", width=1)), **ax(9)))
dots(9, i_over_h, i_over, "#e00000", 4, "square")
hsegs(9, i_conv_h, i_conv, "#e00000", 5)
line(9, inset_hours, i_rh, RHCOL, 2, right=True)

# --- pressure
fig.add_trace(go.Bar(x=hours, y=[p - 1000 for p in press], base=1000, width=1,
                     marker=dict(color=[level_color(p, press_levels, press_colors) for p in press], line=dict(width=0)), **ax(3)))
grid(3)
line(3, hours, press, "black", 2)
dummy(3)
fig.add_trace(go.Bar(x=inset_hours, y=[p - 1011.6 for p in i_press], base=1011.6, width=1,
                     marker=dict(color=i_press_colors, line=dict(width=0)), **ax(10)))
grid(10)
line(10, inset_hours, i_press, "black", 2)
dummy(10)

# --- wind
fig.add_trace(go.Bar(x=hours, y=wind, width=1,
                     marker=dict(color=[level_color(v, wind_levels, wind_colors) for v in wind], line=dict(width=0)), **ax(4)))
grid(4)
line(4, hours, wind, "#1010a0", 2.5)
hsegs(4, [h + 0.5 for h in hours], gust, "#ff0000", 7)
dots(4, over_hours, over_values, "#ff0000", 4, clip=False)
dummy(4)
fig.add_trace(go.Bar(x=inset_hours, y=i_wind, width=1,
                     marker=dict(color=[level_color(v, wind_levels, wind_colors) for v in i_wind], line=dict(width=0)), **ax(11)))
grid(11)
line(11, inset_hours, i_wind, "#1010a0", 2.5)
hsegs(11, i_gust_h, i_gust, "#ff0000", 7)
dots(11, i_over_g_h, i_over_g, "#ff0000", 4, clip=False)
dummy(11)

# --- wind direction
grid(5)
arrows(5, hours, wind_dir, 12, (MAIN_X[1] - MAIN_X[0]) / 77, (432 - 401) / 2)
grid(12)
arrows(12, inset_hours, i_dir, 16, 110 / 16, (430 - 398.3) / 2)

# --- cloud base + visibility
def base_dots(i, series, size):
    for x, y, c in series:
        dots(i, x, mx(y), c, size)

base_dots(6, [(b01_h, b01_km, "#ffffff"), (b25_h, b25_km, "#d0d0d0"), (b45_h, b45_km, "#999999"),
              (b65_h, b65_km, "#555555"), (b79_h, b79_km, "#000000"), (top_h, top_km, DARKRED)], 6)
grid(6)
line(6, hours, vx(visibility), ORANGE, 2.5, right=True)
base_dots(13, [(i_b01_h, i_b01, "#ffffff"), (i_b25_h, i_b25, "#d0d0d0"), (i_b45_h, i_b45, "#999999"),
               (i_b65_h, i_b65, "#555555"), (i_b79_h, i_b79, "#000000"), (i_top_h, i_top, DARKRED)], 6)
grid(13)
line(13, inset_hours, vx(i_vis), ORANGE, 2.5, right=True)

# --- cloud cover + fog
def clouds(i, x, high, mid, low, vlow):
    for y, c in [(high, "#ffffff"), (mid, "#969696"), (low, "#505050"), (vlow, "#3c3c3c")]:
        fig.add_trace(go.Scatter(x=x, y=y, mode="lines", line=dict(width=0, color=c), fill="tozeroy", fillcolor=c, **ax(i)))
    line(i, x, vlow, "#a0a0a0", 1)
    line(i, x, high, "#ffffff", 1.2)

clouds(7, hours, cl_high, cl_mid, cl_low, cl_vlow)
fig.add_trace(go.Bar(x=fog_h, y=fog, width=0.5, marker=dict(color="#ffb000", line=dict(width=0)), **ax(7, True)))
grid(7, right=True)
clouds(14, inset_hours, i_high, i_mid_c, i_low_c, i_vlow_c)
fig.add_trace(go.Bar(x=i_fog_h, y=i_fog, width=0.45, marker=dict(color="#ffb000", line=dict(width=0)), **ax(14, True)))
grid(14, right=True)

# ---------------- text ----------------
txt(363, 8, "wschód słońca: 04:17 CEST", NAVY, "center", 12.2)
txt(363, 21, "zachód słońca: 20:40 CEST", NAVY, "center", 12.2)
txt(581, 8, "21°53'E, 53°46'N", NAVY, "center", 12.2)
txt(581, 21, "(x=264,  y=361)", NAVY, "center", 12.2)
txt(818, 8, "wysokość (min, środek, max)", NAVY, "center", 12.2)
txt(818, 21, "125 - 137 - 163 m", NAVY, "center", 12.2)
txt(419, 37, "pią, 23.05", "black", "center", 12.5)
txt(570, 37, "sob, 24.05", "black", "center", 12.5)
txt(727, 37, "nie, 25.05", "black", "center", 12.5)
txt(319, 50, "CEST", "black", "center", 12.5)
txt(867, 50, "CEST", "black", "center", 12.5)
txt(319, 612, "UTC", "black", "center", 12.5)
txt(872, 612, "UTC", "black", "center", 12.5)
txt(418, 625, "23.05", "black", "center", 12.5)
txt(572, 625, "24.05", "black", "center", 12.5)
txt(726, 625, "25.05", "black", "center", 12.5)
txt(364, 648, "meteo@icm.edu.pl", NAVY, "center", 13)
txt(750, 648, "© 2007-2025 ICM, Uniwersytet Warszawski", NAVY, "center", 13)

for x, y, s in [(289, 96, "temperatura"), (303, 97, "(°C)"), (289, 184, "opad"), (303, 186, "(mm/h, kg/m²/h)"),
                (289, 272, "ciśnienie"), (303, 273, "(hPa)"), (289, 363, "wiatr"), (303, 362, "(m/s)"),
                (289, 476, "pion. rozciągł. chm."), (303, 473, "(km)"), (289, 572, "zachmurzenie"), (303, 563, "(oktanty)"),
                (890, 97, "(°C)"), (902, 96, "temperatura"), (890, 188, "(%)"), (902, 186, "wilgotność wzgl."),
                (890, 272, "(mm Hg)"), (902, 272, "ciśnienie"), (890, 362, "(km/h)"), (902, 363, "wiatr"),
                (890, 475, "(km)"), (902, 475, "widzialność"), (890, 562, "(frakcja)"), (902, 563, "mgła")]:
    txt(x, y, s, NAVY, "center", 12.5, -90)

for ox in (0, -595):
    txt(887 + ox, 415, "W", NAVY, "center", 13)
    txt(897 + ox, 408, "N", NAVY, "center", 13, -90)
    txt(897 + ox, 423, "S", NAVY, "center", 13)
    txt(902 + ox, 415, "E", NAVY, "center", 13, -90)

labels = [
    (6, 15, "Czas lokalny", "black"), (6, 26, "(CET/CEST)", "black"),
    (6, 42, "Temperatura gruntu", DARKRED), (28, 52, "max/min", DARKRED),
    (5, 64, "Temperatura:", "black"), (13, 77, "punkt środkowy", "#ff0000"), (28, 87, "max/min", "#ffdcd0"),
    (10, 99, "odczuwana", "#0000ff"), (28, 108, "max/min", "#a8dcff"), (6, 120, "Temp. punktu rosy", "#6a5acd"),
    (6, 137, "Opad powyżej skali", "#ff0000"), (6, 151, "Wilgotność względna", RHCOL), (6, 166, "Wystąpienie burzy", "black"),
    (6, 179, "Deszcz: max", "#00a000"), (49, 190, "średni", "#00a000"), (6, 201, "Śnieg:", "#1a32c8"), (49, 201, "max", "#1a32c8"),
    (49, 212, "średni", "#1a32c8"), (6, 224, "Wystąpienie opadu", "#ff0000"), (6, 237, "konwekcyjnego", "#ff0000"),
    (5, 263, "Ciśnienie", "black"), (5, 276, "zredukowane", "black"), (5, 289, "do poziomu morza", "black"),
    (5, 318, "Wiatr na 10m:", "black"), (10, 334, "poryw powyżej skali", "#ff0000"), (10, 348, "max porywy wiatru", "#ff0000"),
    (10, 368, "prędkość wiatru", NAVY), (10, 381, "w środku obszaru", NAVY), (10, 409, "kierunek wiatru", NAVY),
    (6, 429, "Wierzchołek chmur", DARKRED), (6, 445, "Podstawa chmur*", "black"), (6, 456, "o pokryciu", "black"),
    (11, 468, "> 7.9 okt.", "black"), (11, 480, "> 6.5 okt.", "#555555"), (10, 490, "> 4.5 okt.", "#999999"), (11, 500, "> 2.5 okt.", "#d0d0d0"),
    (6, 526, "Widzialność", ORANGE), (6, 543, "Chmury:", "black"), (10, 569, "średnie", "#999999"), (10, 581, "niskie", "#333333"),
    (10, 593, "bardzo niskie", "#333333"), (6, 606, "Mgła", "#ffb000"),
]
for x, y, s, c in labels:
    txt(x, y, s, c, "left", 10.7)
txt(6, 622, "Czas uniwersalny (UTC)", "black", "left", 12)
txt(11, 511, "> 0.1 okt.", "white", "left", 10.7, bg=SKY)
txt(10, 555, "wysokie", "white", "left", 10.7, bg=SKY)
txt(5, 648, "* powyżej poziomu morza", "black", "left", 9, bold=True)

leader([(68, 16), (133, 16), (156, 45)], "black")
leader([(102, 44), (121, 44), (157, 100)], DARKRED)
leader([(92, 77), (116, 77)], "#ff0000"); leader([(131, 77), (155, 103)], "#ff0000")
leader([(70, 99), (135, 99)], "#0000ff")
leader([(94, 121), (117, 121)], "#6a5acd"); leader([(126, 121), (137, 113)], "#6a5acd")
leader([(102, 137), (137, 137), (146, 147)], "#ff0000")
leader([(106, 151), (112, 151)], RHCOL); leader([(130, 151), (144, 163)], RHCOL)
leader([(94, 166), (113, 166)], "black"); leader([(130, 166), (138, 172)], "black")
leader([(70, 179), (139, 179)], "#00a000"); leader([(80, 191), (143, 191)], "#00a000")
leader([(70, 202), (112, 202)], "#1a32c8"); leader([(129, 202), (161, 172)], "#1a32c8")
leader([(80, 213), (132, 213), (163, 180)], "#1a32c8")
leader([(97, 225), (140, 225), (146, 221)], "#ff0000")
leader([(52, 264), (125, 264), (135, 262)], "black")
leader([(113, 334), (118, 334)], "#ff0000"); leader([(130, 334), (139, 317)], "#ff0000")
leader([(106, 348), (132, 348), (147, 340)], "#ff0000")
leader([(92, 367), (135, 367)], NAVY)
leader([(86, 410), (142, 410)], NAVY)
leader([(100, 430), (133, 430), (183, 447)], DARKRED)
leader([(57, 468), (133, 468), (192, 456)], "black")
leader([(57, 481), (143, 481)], "#555555")
leader([(57, 491), (132, 491), (143, 501)], "#999999")
leader([(57, 501), (132, 501), (138, 506)], "#d0d0d0")
leader([(57, 510), (138, 510)], SKY, 3); leader([(57, 510), (138, 510)], "white", 1)
leader([(67, 527), (130, 527), (173, 465)], ORANGE)
leader([(53, 557), (187, 557)], SKY, 3); leader([(53, 557), (187, 557)], "white", 1)
leader([(49, 572), (193, 572)], "#999999")
leader([(40, 582), (122, 582)], "#333333"); leader([(130, 582), (135, 582)], "#333333")
leader([(74, 594), (137, 594), (147, 600)], "#333333")
leader([(27, 606), (217, 606), (219, 600)], "#ffb000")
leader([(139, 623), (148, 623), (157, 609)], "black")

fig.update_layout(width=W, height=H, margin=dict(l=0, r=0, t=0, b=0, autoexpand=False), autosize=False,
                  paper_bgcolor="white", plot_bgcolor="rgba(0,0,0,0)", showlegend=False,
                  barmode="overlay", bargap=0, shapes=shapes, annotations=annots,
                  font=dict(family=FONT, size=12), **layout)
fig.write_html("out.html", post_script="document.body.style.margin='0';document.body.style.overflow='hidden';",
               config=dict(displayModeBar=False, staticPlot=True))
